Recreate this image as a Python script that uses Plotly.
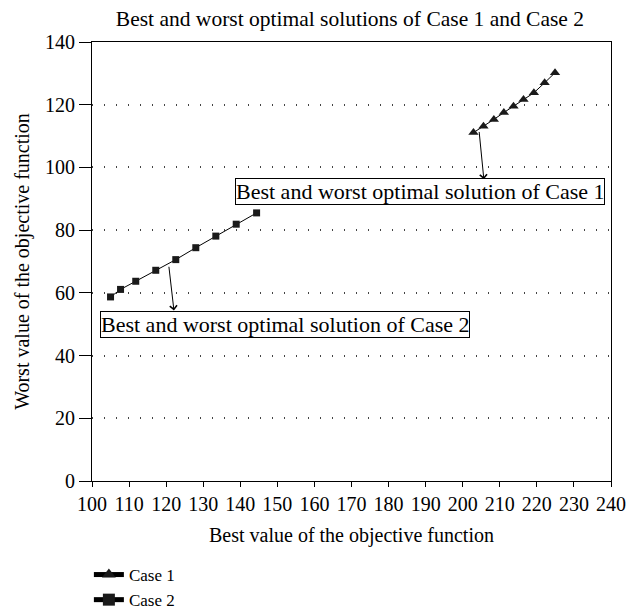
import plotly.graph_objects as go

# Data
case1_x = [202.9, 205.6, 208.4, 211.1, 213.7, 216.4, 219.2, 222.1, 224.9]
case1_y = [111.1, 113.1, 115.3, 117.5, 119.5, 121.7, 123.8, 127.0, 130.2]
case2_x = [105.0, 107.7, 111.8, 117.2, 122.6, 128.0, 133.4, 138.9, 144.4]
case2_y = [58.7, 61.1, 63.7, 67.2, 70.6, 74.4, 78.1, 81.9, 85.5]
x_ticks = list(range(100, 241, 10))
y_ticks = list(range(0, 141, 20))

FONT = "Liberation Serif, Times New Roman, serif"

# page body has an 8px margin, so the figure is sized to fit inside it
W, H = 619, 606

fig = go.Figure()
fig.add_trace(go.Scatter(
    x=case1_x, y=case1_y, mode="lines+markers", name="Case 1",
    line=dict(color="black", width=1),
    marker=dict(symbol="triangle-up", size=9, color="#1a1a1a"),
))
fig.add_trace(go.Scatter(
    x=case2_x, y=case2_y, mode="lines+markers", name="Case 2",
    line=dict(color="black", width=1),
    marker=dict(symbol="square", size=7, color="#1a1a1a"),
))

annotations = [
    # arrows (head at label box, tail at the series)
    dict(x=205.7, y=96.2, ax=204.4, ay=111.8, axref="x", ayref="y", xref="x", yref="y",
         text="", showarrow=True, arrowhead=4, arrowsize=1.4, arrowwidth=1,
         arrowcolor="black", standoff=0, startstandoff=0),
    dict(x=122.1, y=54.4, ax=120.7, ay=68.8, axref="x", ayref="y", xref="x", yref="y",
         text="", showarrow=True, arrowhead=4, arrowsize=1.4, arrowwidth=1,
         arrowcolor="black", standoff=0, startstandoff=0),
    # label boxes
    dict(x=188.5, y=92.2, xref="x", yref="y", text="Best and worst optimal solution of Case 1",
         showarrow=False, bordercolor="black", borderwidth=1, borderpad=0, bgcolor="white",
         font=dict(family=FONT, size=22, color="black")),
    dict(x=152.1, y=49.8, xref="x", yref="y", text="Best and worst optimal solution of Case 2",
         showarrow=False, bordercolor="black", borderwidth=1, borderpad=0, bgcolor="white",
         font=dict(family=FONT, size=22, color="black")),
]

fig.update_layout(
    width=W, height=H, autosize=False,
    margin=dict(l=84, r=16, t=34, b=133),
    paper_bgcolor="white", plot_bgcolor="white",
    font=dict(family=FONT, size=20, color="black"),
    title=dict(text="Best and worst optimal solutions of Case 1 and Case 2",
               x=0.497, xref="paper", y=1 - 10 / H, yref="container",
               xanchor="center", yanchor="middle",
               font=dict(family=FONT, size=21.5, color="black")),
    showlegend=True,
    legend=dict(x=-0.006, xref="paper", y=1 - 549 / H, yref="container",
                xanchor="left", yanchor="top",
                font=dict(family=FONT, size=17, color="black"),
                bgcolor="rgba(0,0,0,0)", tracegroupgap=0, itemsizing="constant"),
    annotations=annotations,
)

fig.update_xaxes(
    range=[100, 240], tickmode="array", tickvals=x_ticks, ticktext=[str(v) for v in x_ticks],
    showgrid=False, zeroline=False, automargin=False, ticklabeloverflow="allow",
    showline=True, linecolor="black", linewidth=1, mirror=True,
    ticks="outside", ticklen=5, tickcolor="black", tickwidth=1,
    title=dict(text="Best value of the objective function", standoff=13,
               font=dict(family=FONT, size=20, color="black")),
)
fig.update_yaxes(
    range=[0, 140], tickmode="array", tickvals=y_ticks, ticktext=[str(v) for v in y_ticks],
    showgrid=True, gridcolor="#444444", gridwidth=1.5, griddash="1px,11px",
    zeroline=False, automargin=False,
    showline=True, linecolor="black", linewidth=1, mirror=True,
    ticks="outside", ticklen=12, tickcolor="black", tickwidth=1,
    title=dict(text="Worst value of the objective function", standoff=10,
               font=dict(family=FONT, size=20, color="black")),
)

fig.write_html("out.html")
